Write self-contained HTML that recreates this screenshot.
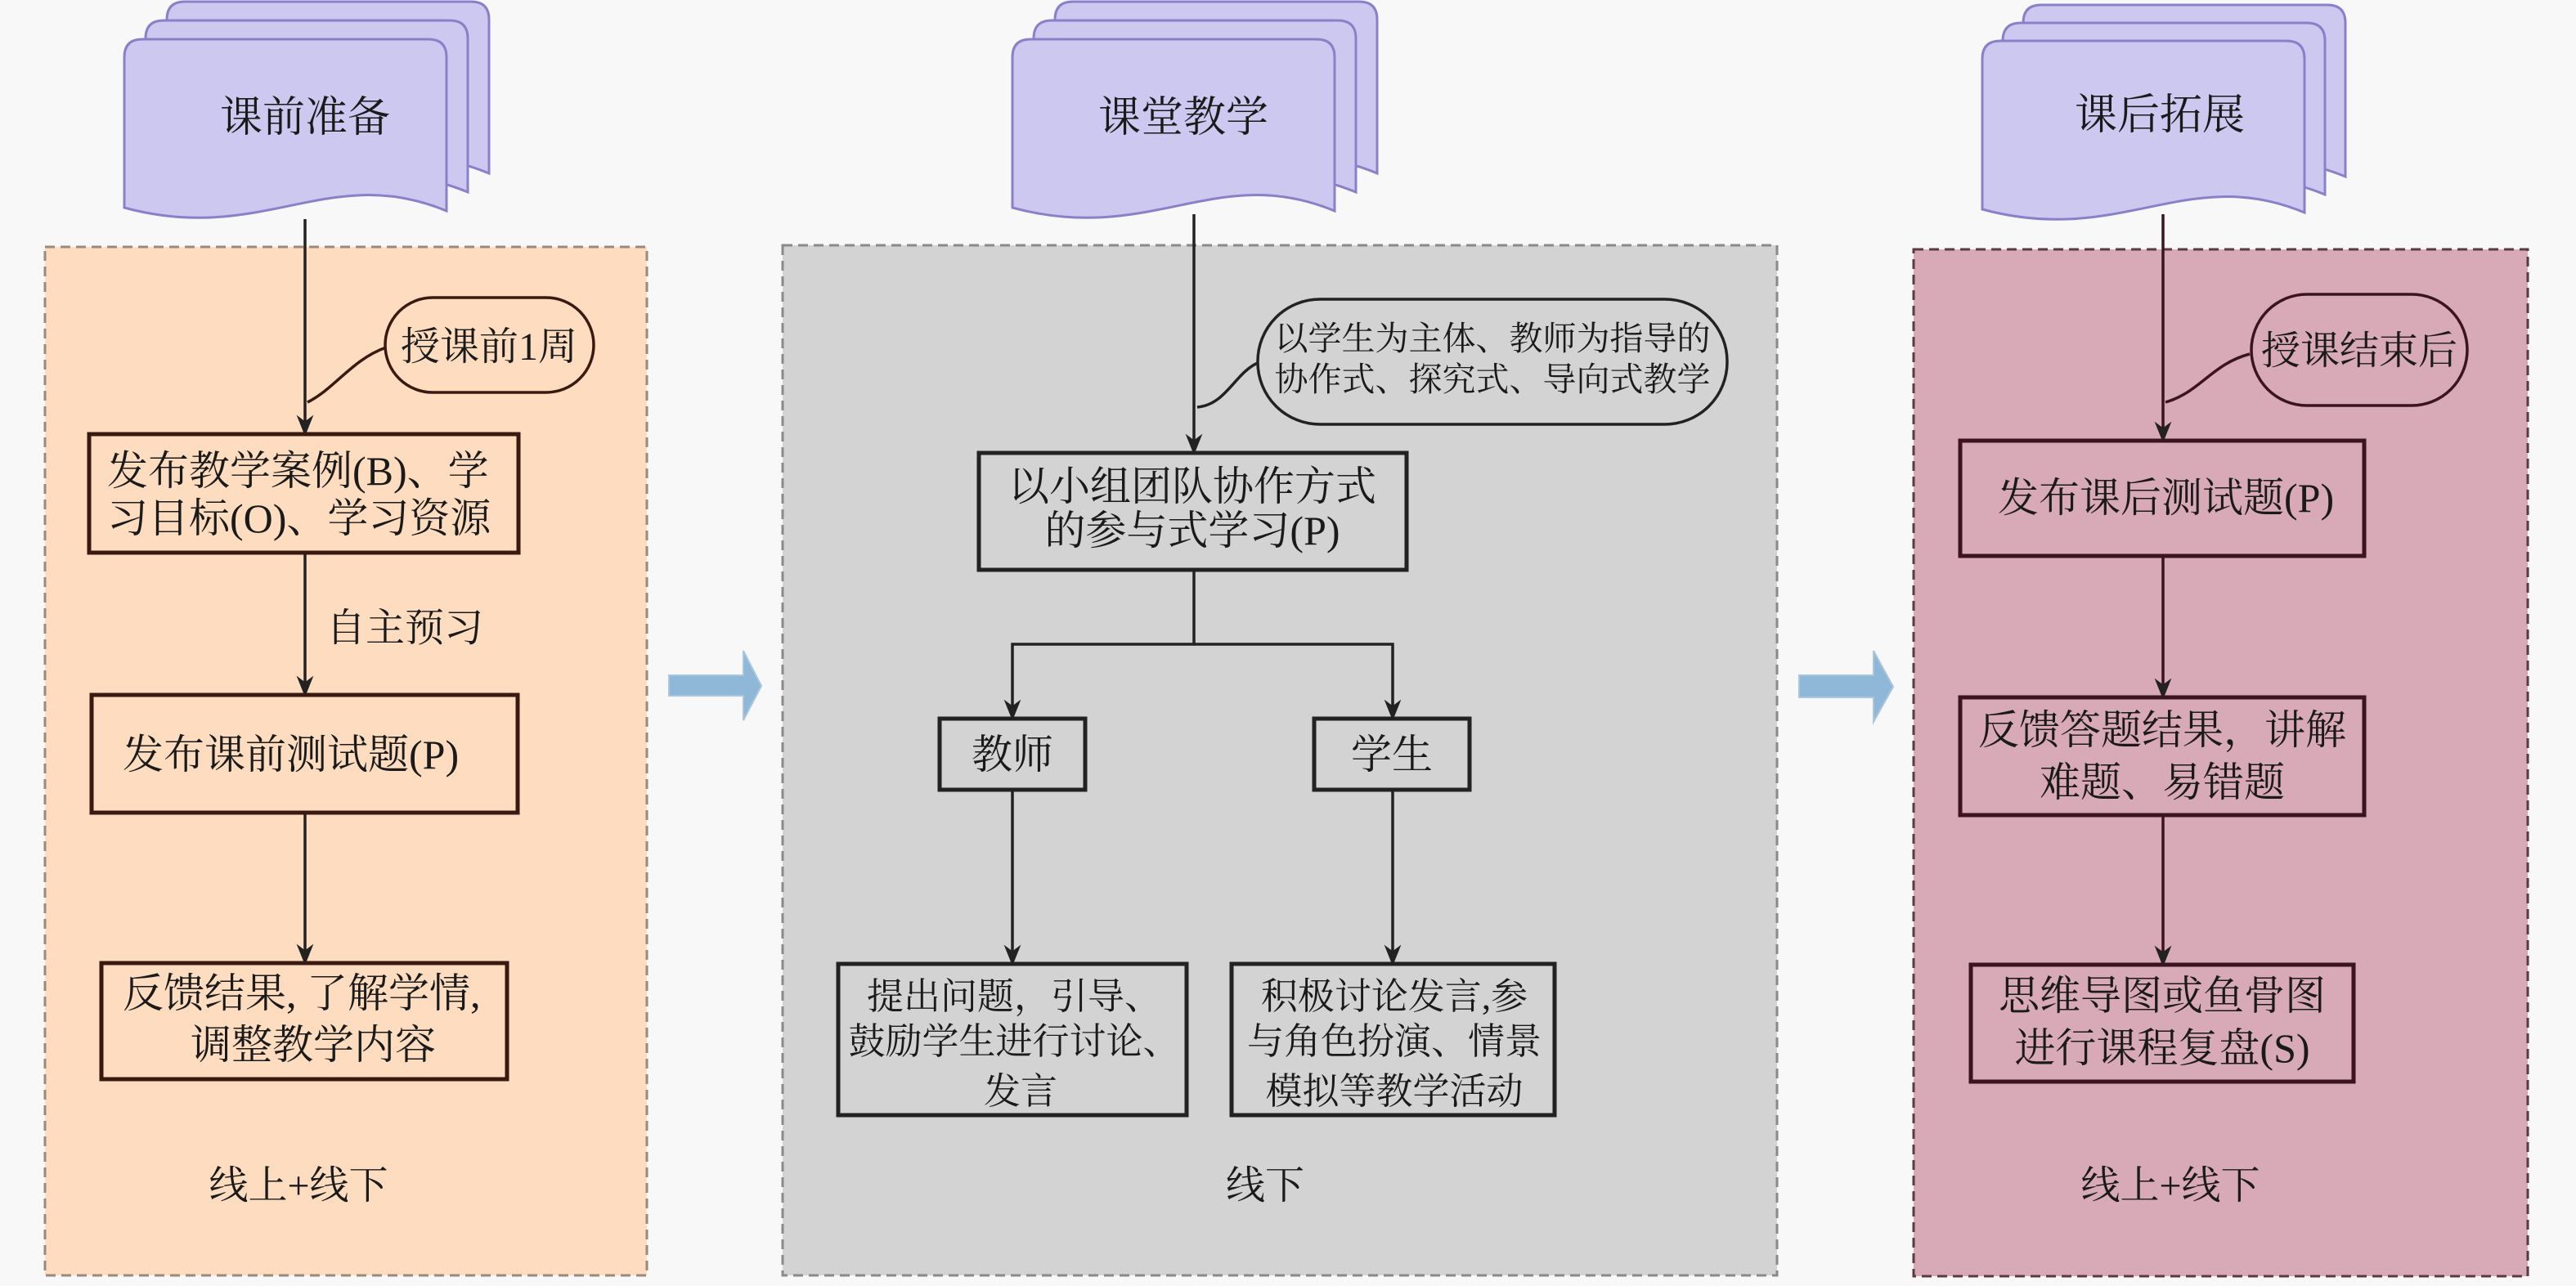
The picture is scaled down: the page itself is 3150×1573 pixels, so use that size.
<!DOCTYPE html>
<html><head><meta charset="utf-8">
<style>
html,body{margin:0;padding:0;background:#f8f8f8;}
svg{display:block;}
text{font-family:"Liberation Serif","Noto Serif CJK SC",serif;fill:#1a1a1a;}
</style></head>
<body>
<svg width="3150" height="1573" viewBox="0 0 3150 1573" xmlns="http://www.w3.org/2000/svg">
<defs>
<marker id="a" viewBox="0 0 20 20" refX="18" refY="10" markerWidth="26" markerHeight="26" orient="auto" markerUnits="userSpaceOnUse">
<path d="M0,2 L20,10 L0,18 L6,10 Z" fill="#222"/>
</marker>
<g id="doc">
<path d="M0,22 Q0,0 22,0 H372 Q394,0 394,22 V210 C250,150 170,252 0,206 Z"/>
</g>
</defs>

<!-- Panels -->
<rect x="55" y="302" width="736" height="1258" fill="#fddcc0" stroke="#9a8a7a" stroke-width="3" stroke-dasharray="12 7"/>
<rect x="957" y="300" width="1216" height="1260" fill="#d3d3d3" stroke="#8a8a8a" stroke-width="3" stroke-dasharray="12 7"/>
<rect x="2340" y="305" width="751" height="1256" fill="#d8a9b7" stroke="#5a3a44" stroke-width="3" stroke-dasharray="12 7"/>

<!-- Blue arrows -->
<path d="M818,826 H909 V796 L931,839 L909,881 V851 H818 Z" fill="#8fb8d8" stroke="#a9c6dd" stroke-width="2"/>
<path d="M2200,826 H2291 V796 L2315,840 L2291,883 V853 H2200 Z" fill="#8fb8d8" stroke="#a9c6dd" stroke-width="2"/>

<!-- Documents -->
<g fill="#cdc8f0" stroke="#8b80c8" stroke-width="3">
<use href="#doc" x="204" y="2"/>
<use href="#doc" x="178" y="25"/>
<use href="#doc" x="152" y="48"/>
<use href="#doc" x="1290" y="2"/>
<use href="#doc" x="1264" y="25"/>
<use href="#doc" x="1238" y="48"/>
<use href="#doc" x="2474" y="6"/>
<use href="#doc" x="2449" y="28"/>
<use href="#doc" x="2424" y="50"/>
</g>
<g font-size="52" text-anchor="middle">
<text x="373" y="161">课前准备</text>
<text x="1447" y="161">课堂教学</text>
<text x="2641" y="158">课后拓展</text>
</g>

<!-- Connectors -->
<g stroke="#222" stroke-width="3.5" fill="none">
<line x1="373" y1="268" x2="373" y2="531" marker-end="url(#a)"/>
<line x1="373" y1="676" x2="373" y2="850" marker-end="url(#a)"/>
<line x1="373" y1="994" x2="373" y2="1178" marker-end="url(#a)"/>
<line x1="1460" y1="262" x2="1460" y2="554" marker-end="url(#a)"/>
<polyline points="1460,697 1460,788 1238,788 1238,879" marker-end="url(#a)"/>
<polyline points="1460,788 1703,788 1703,879" marker-end="url(#a)"/>
<line x1="1238" y1="966" x2="1238" y2="1179" marker-end="url(#a)"/>
<line x1="1703" y1="966" x2="1703" y2="1179" marker-end="url(#a)"/>
<line x1="2645" y1="262" x2="2645" y2="539" marker-end="url(#a)" stroke="#3a1420"/>
<line x1="2645" y1="680" x2="2645" y2="853" marker-end="url(#a)" stroke="#3a1420"/>
<line x1="2645" y1="997" x2="2645" y2="1180" marker-end="url(#a)" stroke="#3a1420"/>
<path d="M472,425 C430,440 410,475 376,492" stroke="#3a1a10"/>
<path d="M1540,443 C1510,455 1500,495 1464,498"/>
<path d="M2751,433 C2705,445 2690,480 2648,492" stroke="#3a1420"/>
</g>

<!-- Callouts -->
<rect x="471" y="364" width="255" height="116" rx="58" fill="#fddcc0" stroke="#3a1a10" stroke-width="3.5"/>
<text x="598" y="440" font-size="48" text-anchor="middle">授课前1周</text>
<rect x="1538" y="366" width="574" height="153" rx="76" fill="#d3d3d3" stroke="#222" stroke-width="3.5"/>
<text x="1825" y="428" font-size="41" text-anchor="middle">以学生为主体、教师为指导的</text>
<text x="1825" y="478" font-size="41" text-anchor="middle">协作式、探究式、导向式教学</text>
<rect x="2753" y="360" width="264" height="136" rx="68" fill="#d8a9b7" stroke="#3a1420" stroke-width="3.5"/>
<text x="2885" y="445" font-size="48" text-anchor="middle">授课结束后</text>

<!-- Left boxes -->
<g fill="none" stroke="#3a1a10" stroke-width="5">
<rect x="109" y="531" width="525" height="145"/>
<rect x="112" y="850" width="521" height="144"/>
<rect x="124" y="1178" width="496" height="142"/>
</g>
<g font-size="50">
<text x="131" y="593">发布教学案例(B)、学</text>
<text x="131" y="651">习目标(O)、学习资源</text>
<text x="150" y="940">发布课前测试题(P)</text>
<text x="150" y="1232">反馈结果, 了解学情,</text>
<text x="383" y="1295" text-anchor="middle">调整教学内容</text>
<text x="399" y="784" font-size="48">自主预习</text>
<text x="365" y="1466" text-anchor="middle" font-size="48">线上+线下</text>
</g>

<!-- Middle boxes -->
<g fill="none" stroke="#222" stroke-width="5">
<rect x="1197" y="554" width="523" height="143"/>
<rect x="1149" y="879" width="178" height="87"/>
<rect x="1607" y="879" width="190" height="87"/>
<rect x="1025" y="1179" width="426" height="185"/>
<rect x="1506" y="1179" width="395" height="185"/>
</g>
<g font-size="50" text-anchor="middle">
<text x="1458" y="612">以小组团队协作方式</text>
<text x="1458" y="666">的参与式学习(P)</text>
<text x="1238" y="940">教师</text>
<text x="1702" y="940">学生</text>
</g>
<g font-size="45" text-anchor="middle">
<text x="1240" y="1234">提出问题，引导、</text>
<text x="1240" y="1289">鼓励学生进行讨论、</text>
<text x="1248" y="1350">发言</text>
<text x="1705" y="1234">积极讨论发言,参</text>
<text x="1705" y="1289">与角色扮演、情景</text>
<text x="1705" y="1350">模拟等教学活动</text>
<text x="1547" y="1466" font-size="48">线下</text>
</g>

<!-- Right boxes -->
<g fill="none" stroke="#3a1420" stroke-width="5">
<rect x="2397" y="539" width="494" height="141"/>
<rect x="2397" y="853" width="494" height="144"/>
<rect x="2410" y="1180" width="468" height="143"/>
</g>
<g font-size="50">
<text x="2443" y="626">发布课后测试题(P)</text>
<text x="2644" y="910" text-anchor="middle">反馈答题结果，讲解</text>
<text x="2644" y="974" text-anchor="middle">难题、易错题</text>
<text x="2644" y="1235" text-anchor="middle">思维导图或鱼骨图</text>
<text x="2644" y="1299" text-anchor="middle">进行课程复盘(S)</text>
<text x="2654" y="1466" text-anchor="middle" font-size="48">线上+线下</text>
</g>
</svg>
</body></html>
